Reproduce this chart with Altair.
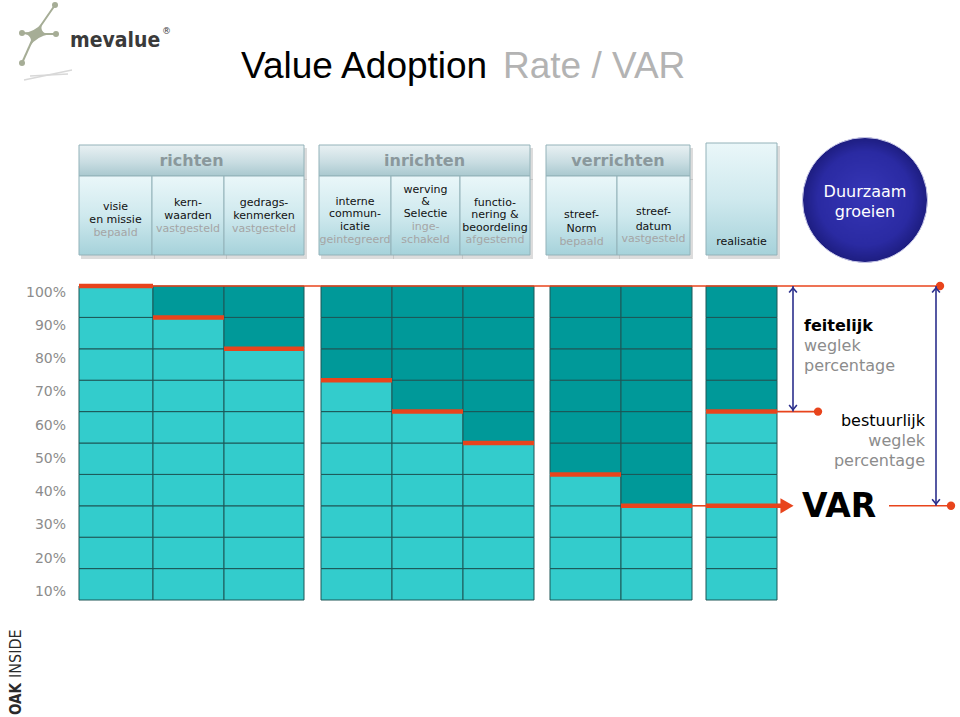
import altair as alt
import pandas as pd

# ---------------- data ----------------
phases = ["richten", "inrichten", "verrichten"]
steps = [
    ["visie", "en missie", "bepaald"],
    ["kern-", "waarden", "vastgesteld"],
    ["gedrags-", "kenmerken", "vastgesteld"],
    ["interne", "commun-", "icatie", "geintegreerd"],
    ["werving", "&", "Selectie", "inge-", "schakeld"],
    ["functio-", "nering &", "beoordeling", "afgestemd"],
    ["streef-", "Norm", "bepaald"],
    ["streef-", "datum", "vastgesteld"],
    ["realisatie"],
]
gray_from = [2, 2, 2, 3, 3, 3, 2, 2, 9]          # first grey line in each box
adoption = [100, 90, 80, 70, 60, 50, 40, 30, 60]  # red level per column (%)
tick_values = [100, 90, 80, 70, 60, 50, 40, 30, 20, 10]
tick_labels = ["100%", "90%", "80%", "70%", "60%", "50%", "40%", "30%", "20%", "10%"]
title_main = "Value Adoption"
title_sub = "Rate / VAR"
circle_lines = ["Duurzaam", "groeien"]
right_a = ["feitelijk", "weglek", "percentage"]
right_b = ["bestuurlijk", "weglek", "percentage"]

# ---------------- layout ----------------
W, H = 960, 717
col_x = [(79, 153), (153, 224), (224, 304), (321, 392), (392, 463), (463, 534),
         (550, 621), (621, 692), (706, 777)]
box_x = [(79, 152), (152, 224), (224, 304), (319, 391), (391, 460), (460, 530),
         (546, 617), (617, 690), (706, 777)]
phase_x = [(79, 304), (319, 530), (546, 690)]
text_y = [[207, 220, 233], [203, 216, 229], [203, 216, 229], [202, 214, 227, 240],
          [190, 202, 214, 227, 240], [203, 215, 228, 240], [215, 229, 242],
          [212, 227, 239], [242]]
TOP_PX, BOT_PX = 286, 600
ppu = (BOT_PX - TOP_PX) / 100.0

X = alt.Scale(domain=[0, W], nice=False, zero=False)
Y_PX = alt.Scale(domain=[H, 0], nice=False, zero=False)
Y_PCT = alt.Scale(domain=[(BOT_PX - H) / ppu, BOT_PX / ppu], nice=False, zero=False)
lab_top, lab_bot = 292.7, 592.0
lpu = (lab_bot - lab_top) / 90.0
Y_TICK = alt.Scale(domain=[10 - (H - lab_bot) / lpu, 10 + lab_bot / lpu], nice=False, zero=False)

RED = "#e8441c"
BLUE = "#2b2f8c"
LIGHT = "#33cccc"
DARK = "#009999"
LOGO = "#a6ad96"


def xq(f="x"):
    return alt.X(f + ":Q", scale=X, axis=None)


def yq(scale, f="y"):
    return alt.Y(f + ":Q", scale=scale, axis=None)


def rects(df, scale=Y_PX, **kw):
    return alt.Chart(df).mark_rect(**kw).encode(x=xq(), x2="x2:Q", y=yq(scale), y2="y2:Q")


def rules(df, scale, **kw):
    enc = dict(x=xq(), y=yq(scale))
    if "x2" in df.columns:
        enc["x2"] = "x2:Q"
    if "y2" in df.columns:
        enc["y2"] = "y2:Q"
    return alt.Chart(df).mark_rule(**kw).encode(**enc)


def texts(df, scale=Y_PX, **kw):
    return alt.Chart(df).mark_text(**kw).encode(
        x=xq(), y=yq(scale), text="t:N", color=alt.Color("c:N", scale=None))


def points(df, scale, **kw):
    return alt.Chart(df).mark_point(**kw).encode(x=xq(), y=yq(scale))


layers = []

# ---- logo ----
ends_x, ends_y = [55, 22, 56, 22], [5, 33, 34, 63]
logo_arms = pd.DataFrame({"x": [35] * 4, "y": [34] * 4, "x2": ends_x, "y2": ends_y})
layers.append(rules(logo_arms, Y_PX, color=LOGO, strokeWidth=2, strokeCap="round"))
blob = ("M0.5,-0.85 Q0.18,-0.1 1,0.02 Q0.1,0.17 -0.45,0.9 "
        "Q-0.17,0.1 -1,-0.05 Q-0.1,-0.17 0.5,-0.85 Z")
layers.append(points(pd.DataFrame({"x": [36], "y": [34]}), Y_PX, filled=True, size=700,
                     color=LOGO, opacity=1, shape=blob))
layers.append(points(pd.DataFrame({"x": ends_x, "y": ends_y}), Y_PX,
                     filled=True, size=36, color=LOGO, opacity=1, shape="circle"))
swoosh = pd.DataFrame({"x": [24, 30], "y": [80, 76], "x2": [72, 68], "y2": [70, 74]})
layers.append(rules(swoosh, Y_PX, color="#d8d8d8", strokeWidth=1.5))
layers.append(texts(pd.DataFrame({"x": [70], "y": [41], "t": ["mevalue"], "c": ["#3a3a3a"]}),
                    font="DejaVu Sans Condensed", fontWeight="bold", fontSize=21,
                    align="left", baseline="middle"))
layers.append(texts(pd.DataFrame({"x": [162], "y": [31], "t": ["®"], "c": ["#3a3a3a"]}),
                    font="DejaVu Sans", fontSize=9, align="left", baseline="middle"))

# ---- title ----
layers.append(texts(pd.DataFrame({"x": [241], "y": [67], "t": [title_main], "c": ["#000000"]}),
                    font="Liberation Sans", fontSize=37, align="left", baseline="middle"))
layers.append(texts(pd.DataFrame({"x": [503], "y": [67], "t": [title_sub], "c": ["#b3b3b3"]}),
                    font="Liberation Sans", fontSize=37, align="left", baseline="middle"))

# ---- header boxes ----
grad_head = alt.LinearGradient(gradient="linear", x1=0, x2=0, y1=0, y2=1, stops=[
    alt.GradientStop(color="#e9f1f3", offset=0), alt.GradientStop(color="#c9dde2", offset=0.55),
    alt.GradientStop(color="#a9c8cf", offset=1)])
grad_box = alt.LinearGradient(gradient="linear", x1=0, x2=0, y1=0, y2=1, stops=[
    alt.GradientStop(color="#eaf7f9", offset=0), alt.GradientStop(color="#cfe9ee", offset=0.5),
    alt.GradientStop(color="#a6d2da", offset=1)])

ph = pd.DataFrame({"x": [a for a, b in phase_x], "x2": [b for a, b in phase_x],
                   "y": [145] * 3, "y2": [176] * 3})
bx = pd.DataFrame({"x": [a for a, b in box_x[:8]], "x2": [b for a, b in box_x[:8]],
                   "y": [176] * 8, "y2": [255] * 8})
rb = pd.DataFrame({"x": [box_x[8][0]], "x2": [box_x[8][1]], "y": [143], "y2": [255]})
for d in (ph, bx, rb):
    sh = d.copy()
    sh["x"] += 2; sh["x2"] += 3; sh["y"] += 3; sh["y2"] += 4
    layers.append(rects(sh, color="#9a9a9a", opacity=0.35))
layers.append(rects(ph, fill=grad_head, stroke="#93b2b9", strokeWidth=1))
layers.append(rects(bx, fill=grad_box, stroke="#93b2b9", strokeWidth=1))
layers.append(rects(rb, fill=grad_box, stroke="#93b2b9", strokeWidth=1))

layers.append(texts(pd.DataFrame({"x": [(a + b) / 2 for a, b in phase_x], "y": [161] * 3,
                                  "t": phases, "c": ["#8a989c"] * 3}),
                    font="DejaVu Sans", fontWeight="bold", fontSize=16,
                    align="center", baseline="middle"))
rows = []
for i, lines in enumerate(steps):
    cx = (box_x[i][0] + box_x[i][1]) / 2
    for j, line in enumerate(lines):
        rows.append({"x": cx, "y": text_y[i][j], "t": line,
                     "c": "#a5a5a5" if j >= gray_from[i] else "#111111"})
layers.append(texts(pd.DataFrame(rows), font="DejaVu Sans", fontSize=11,
                    align="center", baseline="middle"))

# ---- circle ----
circ_grad = alt.RadialGradient(gradient="radial", x1=0.5, y1=0.45, r1=0, x2=0.5, y2=0.5, r2=0.5,
                               stops=[alt.GradientStop(color="#3636b6", offset=0),
                                      alt.GradientStop(color="#2a2aa2", offset=0.75),
                                      alt.GradientStop(color="#1d1d80", offset=1)])
layers.append(points(pd.DataFrame({"x": [865], "y": [200]}), Y_PX, filled=True,
                     size=125 * 125, fill=circ_grad, opacity=1, shape="circle",
                     stroke="#c8c8e8", strokeWidth=1))
layers.append(texts(pd.DataFrame({"x": [865, 865], "y": [192, 212], "t": circle_lines,
                                  "c": ["#ffffff", "#ffffff"]}),
                    font="DejaVu Sans", fontSize=16, align="center", baseline="middle"))

# ---- grid cells ----
cells = []
for i, v in enumerate(adoption):
    for r in range(10):
        lo, hi = r * 10, (r + 1) * 10
        cells.append({"x": col_x[i][0], "x2": col_x[i][1], "y": lo, "y2": hi,
                      "fill": DARK if lo >= v else LIGHT})
cells = pd.DataFrame(cells)
layers.append(alt.Chart(cells).mark_rect(stroke="#1c5656", strokeWidth=1).encode(
    x=xq(), x2="x2:Q", y=yq(Y_PCT), y2="y2:Q", color=alt.Color("fill:N", scale=None)))

# ---- y tick labels ----
layers.append(texts(pd.DataFrame({"x": [66] * 10, "y": tick_values, "t": tick_labels,
                                  "c": ["#8c8c8c"] * 10}), scale=Y_TICK,
                    font="DejaVu Sans", fontSize=14, align="right", baseline="middle"))

# ---- red thin lines & dots ----
thin = pd.DataFrame({"x": [153, col_x[8][1], col_x[7][1], 889],
                     "x2": [940, 818, col_x[8][0], 951],
                     "y": [100, adoption[8], adoption[7], adoption[7]]})
layers.append(rules(thin, Y_PCT, color=RED, strokeWidth=1.6))
layers.append(points(pd.DataFrame({"x": [940, 818, 951], "y": [100, adoption[8], adoption[7]]}),
                     Y_PCT, filled=True, size=70, color=RED, opacity=1, shape="circle"))

# ---- red thick level lines ----
thick = pd.DataFrame({"x": [a for a, b in col_x], "x2": [b for a, b in col_x], "y": adoption})
layers.append(rules(thick, Y_PCT, color=RED, strokeWidth=4.5))
layers.append(rules(pd.DataFrame({"x": [col_x[8][0]], "x2": [784], "y": [adoption[7]]}),
                    Y_PCT, color=RED, strokeWidth=4.5))
layers.append(points(pd.DataFrame({"x": [787], "y": [adoption[7]]}), Y_PCT, filled=True,
                     size=230, color=RED, opacity=1, shape="triangle-right"))

# ---- blue double arrows ----
layers.append(rules(pd.DataFrame({"x": [793, 936], "y": [100, 100],
                                  "y2": [adoption[8], adoption[7]]}),
                    Y_PCT, color=BLUE, strokeWidth=1.6))
layers.append(points(pd.DataFrame({"x": [793, 936], "y": [99.4, 99.4]}), Y_PCT, filled=False,
                     size=60, color=BLUE, opacity=1, strokeWidth=1.6,
                     shape="M-1,1.2L0,0L1,1.2"))
layers.append(points(pd.DataFrame({"x": [793, 936], "y": [adoption[8] + 0.6, adoption[7] + 0.6]}),
                     Y_PCT, filled=False, size=60, color=BLUE, opacity=1, strokeWidth=1.6,
                     shape="M-1,-1.2L0,0L1,-1.2"))

# ---- right-hand annotations ----
layers.append(texts(pd.DataFrame({"x": [804], "y": [326], "t": [right_a[0]], "c": ["#000000"]}),
                    font="DejaVu Sans", fontWeight="bold", fontSize=16, align="left", baseline="middle"))
layers.append(texts(pd.DataFrame({"x": [804, 804], "y": [346, 366], "t": right_a[1:],
                                  "c": ["#8c8c8c"] * 2}),
                    font="DejaVu Sans", fontSize=16, align="left", baseline="middle"))
layers.append(texts(pd.DataFrame({"x": [925, 925, 925], "y": [421, 441, 461], "t": right_b,
                                  "c": ["#000000", "#8c8c8c", "#8c8c8c"]}),
                    font="DejaVu Sans", fontSize=16, align="right", baseline="middle"))
layers.append(texts(pd.DataFrame({"x": [802], "y": [507], "t": ["VAR"], "c": ["#000000"]}),
                    font="DejaVu Sans", fontWeight="bold", fontSize=33, align="left", baseline="middle"))

# ---- OAK INSIDE ----
layers.append(texts(pd.DataFrame({"x": [16], "y": [715], "t": ["OAK"], "c": ["#2a2a2a"]}),
                    font="DejaVu Sans Condensed", fontWeight="bold", fontSize=15, angle=270,
                    align="left", baseline="middle"))
layers.append(texts(pd.DataFrame({"x": [16], "y": [678], "t": ["INSIDE"], "c": ["#2a2a2a"]}),
                    font="DejaVu Sans Condensed", fontSize=16, angle=270,
                    align="left", baseline="middle"))

chart = alt.layer(*layers).resolve_scale(y="independent").properties(
    width=W, height=H, padding=0, autosize=alt.AutoSizeParams(type="none"),
    background="#ffffff").configure_view(stroke=None)

chart.save("out.html", embed_options={"renderer": "svg", "actions": False})
